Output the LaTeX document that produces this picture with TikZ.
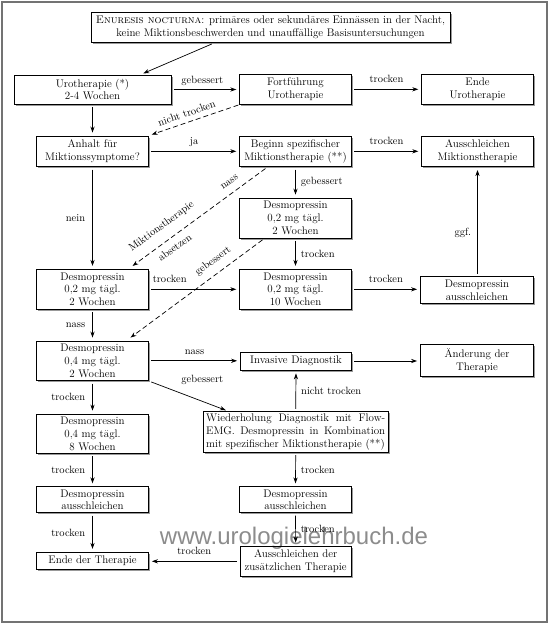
\documentclass[tikz,border=0pt]{standalone}
\usepackage{fontspec}
\newfontfamily\wmfont{Liberation Sans}
\usetikzlibrary{arrows.meta,shadows}
\begin{document}
\begin{tikzpicture}[x=1pt,y=-1pt,
  box/.style={draw, line width=0.8pt, fill=white, align=center, inner sep=1pt,
    font=\fontsize{11}{12.7}\selectfont,
    drop shadow={shadow xshift=1.6pt, shadow yshift=-1.6pt, opacity=0.4, fill=black}},
  arr/.style={line width=0.7pt, -{Stealth[length=6pt,width=4.2pt]}, shorten <=2.5pt, shorten >=3pt},
  darr/.style={arr, dash pattern=on 5pt off 3pt},
  lab/.style={font=\fontsize{10.5}{12}\selectfont, inner sep=1pt},
  hlab/.style={lab, anchor=base, yshift=6.5pt},
]
\useasboundingbox (0,0) rectangle (550,624);
\draw[black!55, line width=1.3pt] (2,2) rectangle (547,622);

% nodes
\node[box, minimum width=359pt, minimum height=30pt] (top) at (270.5,27)
  {\textsc{Enuresis nocturna}: primäres oder sekundäres Einnässen in der Nacht,\\keine Miktionsbeschwerden und unauffällige Basisuntersuchungen};
\node[box, minimum width=157pt, minimum height=29pt] (uro) at (92.5,89.5) {Urotherapie (*)\\2-4 Wochen};
\node[box, minimum width=111.6pt, minimum height=30pt] (fort) at (295.5,89.3) {Fortführung\\Urotherapie};
\node[box, minimum width=111.6pt, minimum height=30pt] (endeuro) at (477.5,89.3) {Ende\\Urotherapie};
\node[box, minimum width=112pt, minimum height=30.7pt] (anhalt) at (92.5,151.3) {Anhalt für\\Miktionssymptome?};
\node[box, minimum width=111.6pt, minimum height=30.7pt] (beginn) at (295.5,151.3) {Beginn spezifischer\\Miktionstherapie (**)};
\node[box, minimum width=111.6pt, minimum height=30.7pt] (ausmik) at (477.5,151.3) {Ausschleichen\\Miktionstherapie};
\node[box, minimum width=111.6pt, minimum height=40pt] (d02m) at (295.5,218) {Desmopressin\\0,2 mg tägl.\\2 Wochen};
\node[box, minimum width=112pt, minimum height=40pt] (d02l) at (92.5,289.3) {Desmopressin\\0,2 mg tägl.\\2 Wochen};
\node[box, minimum width=111.6pt, minimum height=40pt] (d10) at (295.5,289.3) {Desmopressin\\0,2 mg tägl.\\10 Wochen};
\node[box, minimum width=113pt, minimum height=26.6pt] (dausr) at (477,290) {Desmopressin\\ausschleichen};
\node[box, minimum width=112pt, minimum height=39.7pt] (d04) at (92.5,360.8) {Desmopressin\\0,4 mg tägl.\\2 Wochen};
\node[box, minimum width=111pt, minimum height=18pt] (inv) at (296,361) {Invasive Diagnostik};
\node[box, minimum width=113pt, minimum height=32.7pt] (aend) at (477,360.3) {Änderung der\\Therapie};
\node[box, minimum width=185.3pt, minimum height=40.5pt, align=left] (wied) at (295.7,432)
  {\makebox[179pt][s]{Wiederholung Diagnostik mit Flow-}\\
   \makebox[179pt][s]{EMG. Desmopressin in Kombination}\\
   mit spezifischer Miktionstherapie (**)};
\node[box, minimum width=112pt, minimum height=39.3pt] (d08) at (92.5,433.7) {Desmopressin\\0,4 mg tägl.\\8 Wochen};
\node[box, minimum width=112pt, minimum height=26pt] (dausl) at (92.5,499.7) {Desmopressin\\ausschleichen};
\node[box, minimum width=111.6pt, minimum height=26pt] (dausm) at (295.5,499.8) {Desmopressin\\ausschleichen};
\node[box, minimum width=112pt, minimum height=17.5pt] (endeth) at (92.5,561) {Ende der Therapie};
\node[box, minimum width=111.3pt, minimum height=30.7pt] (auszus) at (295.7,561.3) {Ausschleichen der\\zusätzlichen Therapie};

% connectors
\draw[arr, shorten <=4pt] ([xshift=-55pt]top.south) -- ([xshift=48pt]uro.north);
\draw[arr] (uro.east) -- (uro.east -| fort.west) node[hlab, midway, xshift=-3pt] {gebessert};
\draw[arr] (fort.east) -- (fort.east -| endeuro.west) node[hlab, midway] {trocken};
\draw[arr] (uro.south) -- (anhalt.north);
\draw[darr, shorten <=1pt] (fort.south west) -- (anhalt.north east) node[lab, pos=0.55, sloped, above=4pt] {nicht trocken};
\draw[arr] (anhalt.east) -- (anhalt.east -| beginn.west) node[hlab, midway] {ja};
\draw[arr] (beginn.east) -- (beginn.east -| ausmik.west) node[hlab, midway] {trocken};
\draw[arr] (beginn.south) -- (d02m.north) node[lab, midway, right=4pt] {gebessert};
\draw[arr] (anhalt.south) -- (d02l.north) node[lab, midway, left=6pt] {nein};
\draw[darr, shorten >=5pt] ([xshift=-28pt]beginn.south) -- ([xshift=36pt]d02l.north)
  node[lab, pos=0.23, sloped, above=6.5pt] {nass}
  node[lab, pos=0.70, sloped, above=8.5pt] {Miktionstherapie}
  node[lab, pos=0.71, sloped, below=5pt] {absetzen};
\draw[arr] (d02m.south) -- (d10.north) node[lab, midway, right=4pt] {trocken};
\draw[darr, shorten >=5pt] ([xshift=-31pt]d02m.south) -- ([xshift=34pt]d04.north)
  node[lab, pos=0.32, sloped, above=6pt] {gebessert};
\draw[arr] (d02l.east) -- (d02l.east -| d10.west) node[hlab, pos=0.23] {trocken};
\draw[arr] (d10.east) -- (d10.east -| dausr.west) node[hlab, midway] {trocken};
\draw[arr] (ausmik.south |- dausr.north) -- (ausmik.south) node[lab, pos=0.4, left=5pt] {ggf.};
\draw[arr] (d02l.south) -- (d04.north) node[lab, midway, left=6pt] {nass};
\draw[arr] (d04.east) -- (d04.east -| inv.west) node[hlab, midway] {nass};
\draw[arr] (inv.east) -- (inv.east -| aend.west);
\draw[arr] (d04.south east) -- ([xshift=-67pt]wied.north) node[lab, pos=0.67, yshift=21pt] {gebessert};
\draw[arr] (wied.north |- wied.north) -- (inv.south) node[lab, midway, right=4pt] {nicht trocken};
\draw[arr] (d04.south) -- (d08.north) node[lab, midway, left=6pt] {trocken};
\draw[arr] (d08.south) -- (dausl.north) node[lab, midway, left=6pt] {trocken};
\draw[arr] (wied.south) -- (dausm.north) node[lab, midway, right=4pt] {trocken};
\draw[arr] (dausl.south) -- (endeth.north) node[lab, midway, left=6pt] {trocken};
\draw[arr] (dausm.south) -- (auszus.north) node[lab, midway, right=4pt] {trocken};
\draw[arr] (auszus.west) -- (auszus.west -| endeth.east) node[hlab, midway] {trocken};

% watermark
\node[font=\wmfont\fontsize{24}{24}\selectfont, text=black, opacity=0.45, anchor=base, inner sep=0] (wm) at (294,544.3) {www.urologielehrbuch.de};
\end{tikzpicture}
\end{document}
